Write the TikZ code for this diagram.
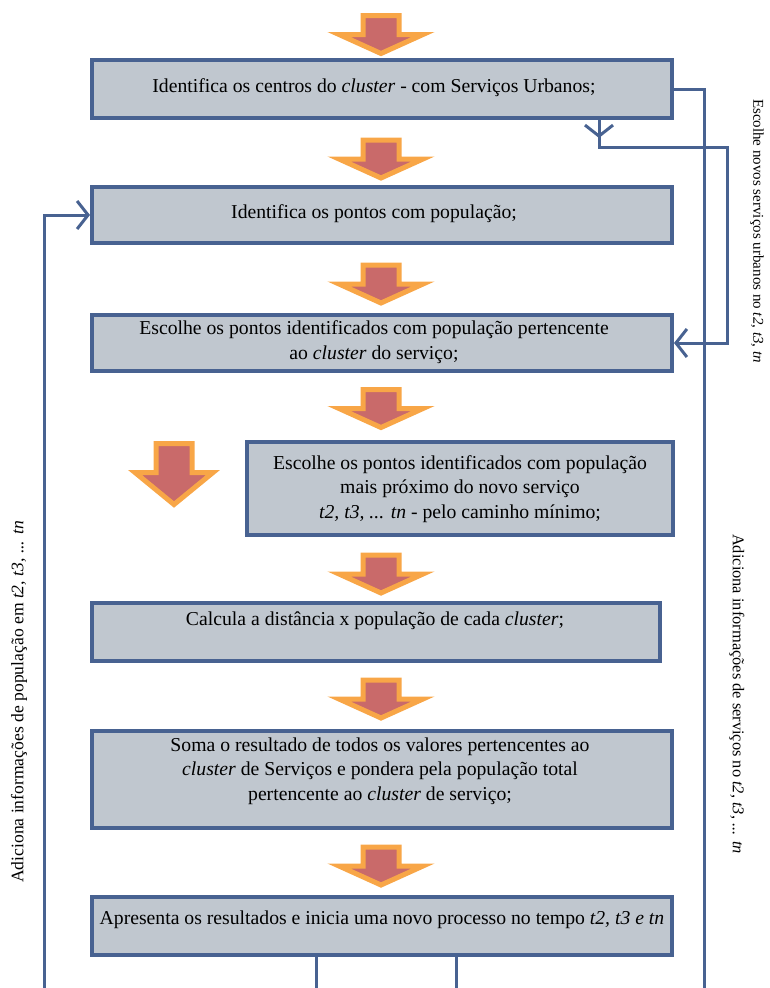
\documentclass[tikz,border=0pt]{standalone}
\usepackage{fontspec}
\setmainfont{Liberation Serif}
\usetikzlibrary{arrows.meta}
\definecolor{boxfill}{RGB}{192,199,207}
\definecolor{boxline}{RGB}{72,98,145}
\definecolor{arrfill}{RGB}{201,106,106}
\definecolor{arrline}{RGB}{248,166,71}
\newcommand{\blkarrow}[5]{% x, top, shaft len, head len, head half width
  \draw[arrline, line width=5pt, fill=arrfill, line join=miter]
    (#1-18,#2) -- (#1+18,#2) -- (#1+18,#2+#3) -- (#1+#5,#2+#3) -- (#1,#2+#3+#4)
    -- (#1-#5,#2+#3) -- (#1-18,#2+#3) -- cycle;}
\begin{document}
\begin{tikzpicture}[x=1pt,y=-1pt,
  box/.style={draw=boxline, line width=4pt, fill=boxfill, inner sep=0pt},
  txt/.style={align=center, inner sep=0pt, font=\fontsize{19.7}{24.5}\selectfont},
  side/.style={inner sep=0pt},
  conn/.style={draw=boxline, line width=3pt},
  barb/.style={-{Straight Barb[length=11pt,width=28pt,line width=3pt]}}]
\useasboundingbox (0,0) rectangle (769,988);
% boxes
\node[box, minimum width=580pt, minimum height=58pt] (b1) at (382,89) {};
\node[box, minimum width=580pt, minimum height=56pt] (b2) at (382,215) {};
\node[box, minimum width=580pt, minimum height=56pt] (b3) at (382,343) {};
\node[box, minimum width=426pt, minimum height=93pt] (b4) at (460,488.5) {};
\node[box, minimum width=568pt, minimum height=58pt] (b5) at (376,632) {};
\node[box, minimum width=580pt, minimum height=97pt] (b6) at (382,779.5) {};
\node[box, minimum width=580pt, minimum height=58pt] (b7) at (382,926) {};
% texts
\node[txt] (t1) at (374,88) {Identifica os centros do \textit{cluster} - com Serviços Urbanos;};
\node[txt] (t2) at (374,214) {Identifica os pontos com população;};
\node[txt] (t3) at (374,342) {Escolhe os pontos identificados com população pertencente\\ ao \textit{cluster} do serviço;};
\node[txt] (t4) at (460,489) {Escolhe os pontos identificados com população\\ mais próximo do novo serviço\\ \textit{t2, t3, ... tn} - pelo caminho mínimo;};
\node[txt] (t5) at (375,621) {Calcula a distância x população de cada \textit{cluster};};
\node[txt] (t6) at (380,771) {Soma o resultado de todos os valores pertencentes ao\\ \textit{cluster} de Serviços e pondera pela população total\\ pertencente ao \textit{cluster} de serviço;};
\node[txt] (t7) at (382,920) {Apresenta os resultados e inicia uma novo processo no tempo \textit{t2, t3 e tn}};
% block arrows
\blkarrow{381}{15.5}{19}{19}{42}
\blkarrow{381}{140}{19}{19}{42}
\blkarrow{381}{265}{19}{19}{42}
\blkarrow{381}{389.5}{19}{19}{42}
\blkarrow{381}{555}{19}{19}{42}
\blkarrow{381}{680}{19}{19}{42}
\blkarrow{381}{847}{19}{19}{42}
\blkarrow{174}{443.5}{29}{32}{39}
% connectors
\coordinate (rb) at (704,988);
\coordinate (lb) at (44,988);
\coordinate (m1) at (316,988);
\coordinate (m2) at (456,988);
\coordinate (d1) at (599,147);
\coordinate (d2) at (727,147);
\draw[conn] (b1.east) -| (rb);
\draw[conn, barb] (b1.south -| d1) -- (599,138);
\draw[conn, barb] (b1.south -| d1) -- (d1) -- (d2) |- (b3.east);
\draw[conn, barb] (lb) |- (b2.west);
\draw[conn] (b7.south -| m1) -- (m1);
\draw[conn] (b7.south -| m2) -- (m2);
% side labels
\node[side, rotate=-90, font=\fontsize{15}{17}\selectfont] (s1) at (757,231) {Escolhe novos serviços urbanos no \textit{t2, t3, tn}};
\node[side, rotate=-90, font=\fontsize{16.4}{18}\selectfont] (s2) at (737,694) {Adiciona informações de serviços no \textit{t2, t3, ... tn}};
\node[side, rotate=90, font=\fontsize{17.6}{19}\selectfont] (s3) at (19,702) {Adiciona informações de população em \textit{t2, t3, ... tn}};
\end{tikzpicture}
\end{document}
